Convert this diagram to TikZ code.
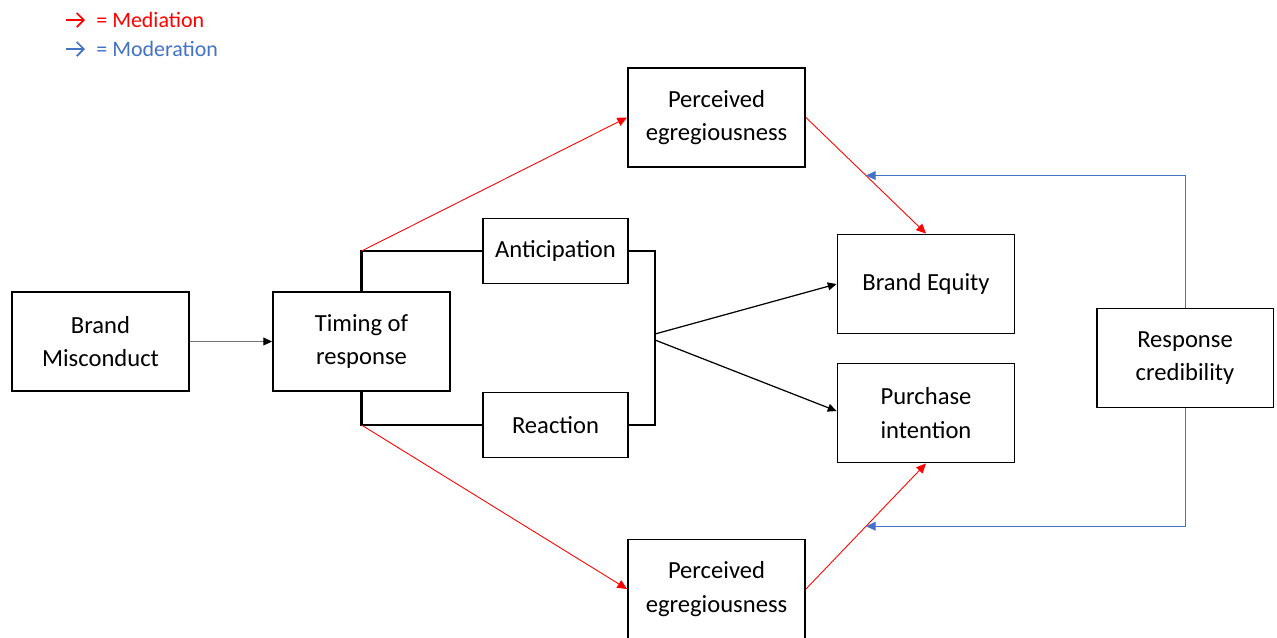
\documentclass[tikz,border=0pt]{standalone}
\usepackage{fontspec}
\setmainfont{Carlito}
\usetikzlibrary{positioning, arrows.meta, calc}

\definecolor{medred}{RGB}{255,0,0}
\definecolor{modblue}{RGB}{68,114,196}

\begin{document}
\begin{tikzpicture}[
  x = 0.02cm, y = -0.02cm,
  every node/.style = {font=\fontsize{14}{19}\selectfont, align=center},
  block/.style = {draw, line width=1.1pt, rectangle, inner sep=2pt,
      minimum width=3.54cm, minimum height=1.98cm},
  smallblock/.style = {block, minimum width=2.9cm, minimum height=1.3cm},
  legend/.style = {font=\fontsize{12.5}{15}\selectfont, anchor=west, inner sep=0pt},
  link/.style = {line width=1.2pt},
  flow/.style = {line width=0.7pt, -{Triangle[length=5pt, width=4.5pt]}},
  mediation/.style = {draw=medred, line width=0.5pt,
      -{Triangle[length=5.5pt, width=5pt, fill=medred]}},
  moderation/.style = {draw=modblue, line width=0.5pt,
      -{Triangle[length=5.5pt, width=5pt, fill=modblue]}}
]
  \useasboundingbox (0,0) rectangle (1277,637);

  % legend
  \node[legend, text=medred] (medtxt) at (96,20) {= Mediation};
  \node[legend, text=modblue] (modtxt) at (96,49) {= Moderation};
  \coordinate (medtail) at (66,20);
  \coordinate (modtail) at (66,49);
  \draw[medred, line width=1pt, -{Straight Barb[length=4pt, width=8pt]}]
      (medtail) -- ([xshift=-0.22cm]medtxt.west);
  \draw[modblue, line width=1pt, -{Straight Barb[length=4pt, width=8pt]}]
      (modtail) -- ([xshift=-0.22cm]modtxt.west);

  % boxes
  \node[block] (bm) at (100.5,341.5) {Brand\\Misconduct};
  \node[block] (tr) at (361.5,341.5) {Timing of\\response};
  \node[smallblock] (ant) at (555.5,251) {Anticipation};
  \node[smallblock] (rea) at (555.5,425) {Reaction};
  \node[block] (pe1) at (716.5,117.5) {Perceived\\egregiousness};
  \node[block] (pe2) at (716.5,589) {Perceived\\egregiousness};
  \node[block] (be) at (926,284) {Brand Equity};
  \node[block] (pi) at (926,413) {Purchase\\intention};
  \node[block] (rc) at (1185,358) {Response\\credibility};

  % timing split
  \draw[link] (tr.north) |- (ant.west);
  \draw[link] (tr.south) |- (rea.west);
  \coordinate (tup) at (tr.north |- ant.west);
  \coordinate (tdown) at (tr.south |- rea.west);

  % bracket to outcomes
  \coordinate (hub) at (655,337);
  \draw[link] (ant.east) -| (hub |- ant.east) |- (rea.east);
  \draw[flow] ([yshift=0.06cm]hub) -- (be.west);
  \draw[flow] ([yshift=-0.06cm]hub) -- ([yshift=0.04cm]pi.west);

  \draw[flow, draw=black!55, -{Triangle[length=5pt, width=4.5pt, black]}] (bm) -- (tr);

  % mediation paths
  \draw[mediation] (tup) -- (pe1.west);
  \draw[mediation] (tdown) -- (pe2.west);
  \draw[mediation] (pe1.east) -- (be.north);
  \draw[mediation] (pe2.east) -- (pi.south);

  % moderation
  \coordinate (mid1) at ($(pe1.east)!0.5!(be.north)$);
  \coordinate (mid2) at ($(pe2.east)!0.5!(pi.south)$);
  \draw[moderation] (rc.north) |- (mid1);
  \draw[moderation] (rc.south) |- (mid2);
\end{tikzpicture}
\end{document}
